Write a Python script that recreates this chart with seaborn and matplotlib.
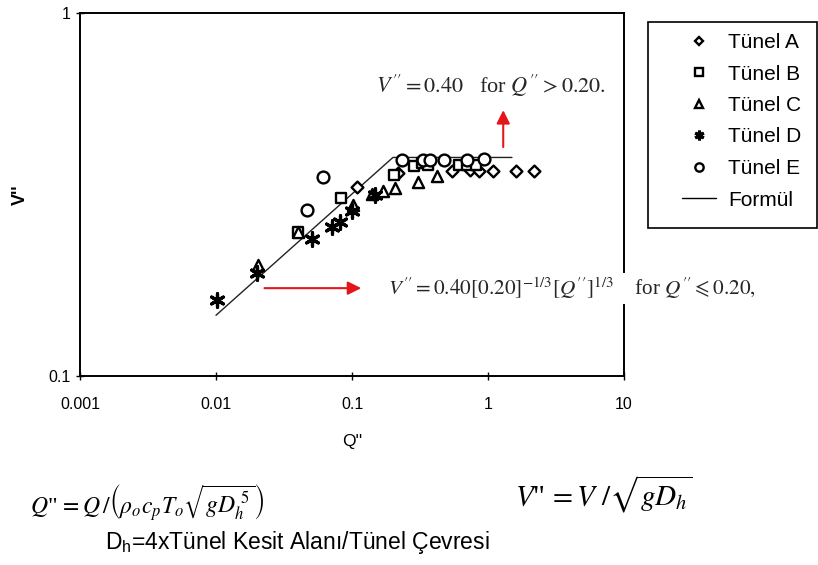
import matplotlib
matplotlib.use("Agg")
import matplotlib.pyplot as plt
import seaborn as sns
import pandas as pd
from matplotlib.lines import Line2D
from matplotlib.patches import Rectangle

# ---- data ----
tunel_a_q = [0.108, 0.218, 0.541, 0.74, 0.86, 1.08, 1.62, 2.18]
tunel_a_v = [0.331, 0.362, 0.368, 0.369, 0.368, 0.368, 0.368, 0.368]
tunel_b_q = [0.040, 0.0826, 0.204, 0.286, 0.325, 0.362, 0.615, 0.706, 0.82]
tunel_b_v = [0.249, 0.309, 0.358, 0.379, 0.385, 0.381, 0.381, 0.381, 0.381]
tunel_c_q = [0.0204, 0.040, 0.1016, 0.140, 0.168, 0.207, 0.307, 0.419]
tunel_c_v = [0.202, 0.249, 0.296, 0.318, 0.324, 0.329, 0.343, 0.356]
tunel_d_q = [0.0101, 0.0199, 0.0506, 0.0708, 0.0817, 0.0993, 0.1476]
tunel_d_v = [0.162, 0.192, 0.238, 0.258, 0.266, 0.284, 0.315]
tunel_e_q = [0.0464, 0.0612, 0.232, 0.334, 0.375, 0.474, 0.697, 0.934]
tunel_e_v = [0.287, 0.353, 0.394, 0.394, 0.394, 0.394, 0.394, 0.396]
formul_q = [0.01, 0.2, 1.5]
formul_v = [0.147, 0.40, 0.40]

x_ticks = [0.001, 0.01, 0.1, 1, 10]
x_tick_labels = ["0.001", "0.01", "0.1", "1", "10"]
y_ticks = [0.1, 1]
y_tick_labels = ["0.1", "1"]
legend_labels = ["Tünel A", "Tünel B", "Tünel C", "Tünel D", "Tünel E", "Formül"]

sns.set_theme(style="white")
plt.rcParams["font.family"] = ["Liberation Sans", "DejaVu Sans"]
plt.rcParams["mathtext.fontset"] = "stix"

fig = plt.figure(figsize=(8.18, 5.65), dpi=100)
ax = fig.add_axes([80 / 818, 1 - 376 / 565, 544 / 818, 363 / 565])

star6 = (6, 2, 0)

series = [
    (tunel_a_q, tunel_a_v, "D", 6),
    (tunel_b_q, tunel_b_v, "s", 7.5),
    (tunel_c_q, tunel_c_v, "^", 8),
    (tunel_e_q, tunel_e_v, "o", 8.5),
]
for q, v, m, ms in series:
    df = pd.DataFrame({"Q": q, "V": v})
    sns.scatterplot(data=df, x="Q", y="V", marker=m, s=ms ** 2, facecolor="white",
                    edgecolor="black", linewidth=1.7, ax=ax, zorder=3)
dfd = pd.DataFrame({"Q": tunel_d_q, "V": tunel_d_v})
sns.scatterplot(data=dfd, x="Q", y="V", marker=star6, s=95, color="black",
                linewidth=2.3, ax=ax, zorder=3)
dff = pd.DataFrame({"Q": formul_q, "V": formul_v})
sns.lineplot(data=dff, x="Q", y="V", color="#222222", linewidth=1.0, ax=ax, zorder=2)

ax.set_xscale("log")
ax.set_yscale("log")
ax.set_xlim(0.001, 10)
ax.set_ylim(0.1, 1)
ax.set_xticks(x_ticks)
ax.set_xticklabels(x_tick_labels)
ax.set_yticks(y_ticks)
ax.set_yticklabels(y_tick_labels)
ax.minorticks_off()
ax.tick_params(axis="x", which="major", direction="inout", length=6, width=1,
               color="black", labelsize=11.5, labelcolor="black", pad=12, bottom=True)
ax.tick_params(axis="y", which="major", direction="inout", length=6, width=1,
               color="black", labelsize=11.5, labelcolor="black", pad=4, left=True)
for sp in ax.spines.values():
    sp.set_color("black")
    sp.set_linewidth(1.4)
ax.set_xlabel("Q''", fontsize=12.5, labelpad=16, color="black")
ax.set_ylabel("V''", fontsize=13, labelpad=14, color="black", fontweight="bold")

# annotations
ax.text(0.544, 0.80, r"$V'' = 0.40$   for $Q'' > 0.20.$", transform=ax.transAxes,
        fontsize=16, family="Liberation Serif", va="center", ha="left", zorder=5,
        bbox=dict(facecolor="white", edgecolor="none", pad=2), clip_on=False)
ax.text(0.566, 0.242, r"$V'' = 0.40[0.20]^{-1/3}[Q'']^{1/3}$    for $Q'' \leqslant 0.20,$",
        transform=ax.transAxes, fontsize=15.3, family="Liberation Serif", va="center",
        ha="left", zorder=5, bbox=dict(facecolor="white", edgecolor="none", pad=2), clip_on=False)
ax.annotate("", xy=(0.778, 0.740), xytext=(0.778, 0.623), xycoords="axes fraction",
            arrowprops=dict(arrowstyle="-|>", color="#e3161b", lw=1.5, mutation_scale=20))
ax.annotate("", xy=(0.522, 0.242), xytext=(0.334, 0.242), xycoords="axes fraction",
            arrowprops=dict(arrowstyle="-|>", color="#e3161b", lw=1.5, mutation_scale=20))

# legend frame and entries
fig.patches.append(Rectangle((648 / 818, 1 - 228 / 565), 169 / 818, 206 / 565,
                             transform=fig.transFigure, facecolor="white",
                             edgecolor="black", linewidth=1.2, zorder=1))
handles = [
    Line2D([], [], ls="none", marker="D", ms=4.5, mfc="white", mec="black", mew=1.7),
    Line2D([], [], ls="none", marker="s", ms=5.5, mfc="white", mec="black", mew=1.7),
    Line2D([], [], ls="none", marker="^", ms=6, mfc="white", mec="black", mew=1.7),
    Line2D([], [], ls="none", marker=star6, ms=7, color="black", mew=2.2),
    Line2D([], [], ls="none", marker="o", ms=6, mfc="white", mec="black", mew=1.7),
    Line2D([], [], color="black", lw=1),
]
leg = fig.legend(handles, legend_labels, loc="upper left",
                 bbox_to_anchor=(682 / 818, 1 - 33 / 565), fontsize=15, frameon=False,
                 handlelength=1.65, labelspacing=0.6, borderpad=0, handletextpad=0.55,
                 borderaxespad=0)
for t in leg.get_texts():
    t.set_color("black")

# bottom formulas
fig.text(30 / 818, 0.110,
         r'$Q$"$\,=Q\,/\left(\rho_o c_p T_o\sqrt{gD_h^{\ 5}}\right)$',
         fontsize=17, family="Liberation Serif", ha="left", va="center", color="black")
fig.text(515 / 818, 0.125, r'$V$"$\,=V\ /\sqrt{gD_h}$',
         fontsize=21, family="Liberation Serif", ha="left", va="center", color="black")
fig.text(105 / 818, 0.039, r"D$\mathregular{_h}$=4xTünel Kesit Alanı/Tünel Çevresi",
         fontsize=16.5, ha="left", va="center", color="black")

fig.savefig("out.png", dpi=100, facecolor="white")
